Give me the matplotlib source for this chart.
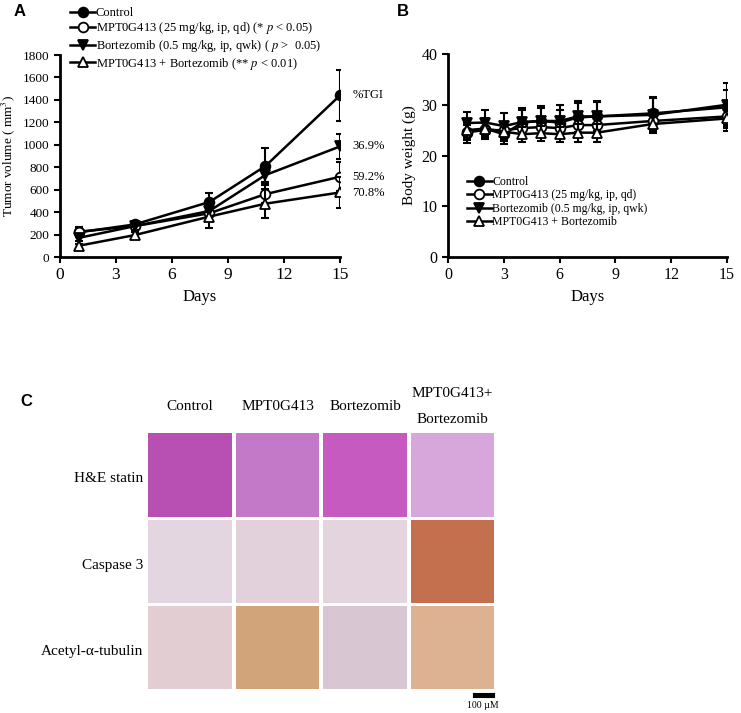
import numpy as np
import matplotlib
matplotlib.use('Agg')
import matplotlib.pyplot as plt

plt.rcParams['font.family'] = ['Liberation Serif', 'DejaVu Serif']
plt.rcParams['mathtext.fontset'] = 'stix'

W, H = 741, 713

# ---- panel A data: tumor volume ----
days_a = [1, 4, 8, 11, 15]
vol_control = [220, 290, 490, 810, 1440]
err_control = [40, 30, 80, 160, 230]
vol_mpt = [225, 275, 390, 560, 715]
err_mpt = [40, 30, 60, 80, 130]
vol_bort = [170, 275, 410, 730, 985]
err_bort = [30, 30, 70, 60, 115]
vol_combo = [100, 195, 360, 475, 575]
err_combo = [20, 25, 100, 130, 140]
tgi_labels = ['%TGI', '36.9%', '59.2%', '70.8%']
tgi_y = [1440, 985, 715, 570]

# ---- panel B data: body weight ----
days_b = [1, 2, 3, 4, 5, 6, 7, 8, 11, 15]
bw_control = [24.5, 25.3, 24.2, 26.5, 26.8, 26.5, 27.5, 27.7, 28.3, 29.5]
bw_control_err = [2.0, 2.0, 2.0, 2.5, 2.5, 2.5, 2.8, 2.8, 3.0, 3.5]
bw_mpt = [24.6, 25.0, 25.0, 25.4, 25.6, 25.4, 26.0, 26.0, 26.8, 27.7]
bw_mpt_err = [1.5, 1.5, 1.5, 1.5, 1.5, 1.5, 1.8, 1.8, 1.8, 2.2]
bw_bort = [26.4, 26.5, 25.8, 26.6, 26.8, 26.8, 27.7, 27.7, 28.0, 30.0]
bw_bort_err = [2.2, 2.5, 2.5, 2.8, 3.0, 3.2, 3.0, 3.0, 3.5, 4.3]
bw_combo = [25.0, 25.3, 24.7, 24.2, 24.4, 24.2, 24.5, 24.5, 26.2, 27.3]
bw_combo_err = [1.5, 1.5, 1.8, 1.5, 1.5, 1.5, 1.8, 1.8, 1.5, 2.5]

# ---- panel C: tiles ----
c_cols = ['Control', 'MPT0G413', 'Bortezomib', 'MPT0G413+\n\nBortezomib']
c_rows = ['H&E statin', 'Caspase 3', 'Acetyl-α-tubulin']
tile_colors = [
    ['#b850b4', '#c478c8', '#c65ac0', '#d7a6da'],
    ['#e4d6e0', '#e2d0da', '#e4d4de', '#c4704e'],
    ['#e2ced2', '#d2a47a', '#d8c6d2', '#dcb292'],
]


def px_axes(l, t, r, b):
    return fig.add_axes([l / W, 1 - b / H, (r - l) / W, (b - t) / H])


def style_axes(ax):
    for s in ['top', 'right']:
        ax.spines[s].set_visible(False)
    for s in ['left', 'bottom']:
        ax.spines[s].set_linewidth(2)
    ax.tick_params(direction='out', length=4, width=1.5)


fig = plt.figure(figsize=(W / 100, H / 100), dpi=100)

styles = [('o', 'black'), ('o', 'white'), ('v', 'black'), ('^', 'white')]

# ---------- A ----------
axA = px_axes(60, 55, 340, 257)
vols = [vol_control, vol_mpt, vol_bort, vol_combo]
errs = [err_control, err_mpt, err_bort, err_combo]
labels_a = ['Control',
            'MPT0G413 (25 mg/kg, ip, qd) (* $p$ < 0.05)',
            'Bortezomib (0.5 mg/kg, ip, qwk) ( $p$ >  0.05)',
            'MPT0G413 + Bortezomib (** $p$ < 0.01)']
for v, e, (m, fc), lab in zip(vols, errs, styles, labels_a):
    axA.errorbar(days_a, v, yerr=e, fmt='none', ecolor='black', elinewidth=1.5,
                 capsize=3, capthick=1.5)
    axA.plot(days_a, v, color='black', lw=1.8, marker=m, markersize=7,
             markerfacecolor=fc, markeredgecolor='black', markeredgewidth=1.3,
             label=lab)
axA.set_xlim(0, 15)
axA.set_ylim(0, 1800)
axA.set_xticks([0, 3, 6, 9, 12, 15])
axA.set_yticks(range(0, 1801, 200))
axA.tick_params(axis='x', labelsize=12.5)
axA.tick_params(axis='y', labelsize=9.5)
axA.set_xlabel('Days', fontsize=12)
axA.set_ylabel('Tumor volume ( mm$^3$)', fontsize=9.5)
style_axes(axA)
for lab, y in zip(tgi_labels, tgi_y):
    axA.annotate(lab, xy=(15, y), xytext=(9, 0), textcoords='offset points',
                 va='center', ha='left', fontsize=9, annotation_clip=False)
fig.legend(*axA.get_legend_handles_labels(), loc='upper left',
           bbox_to_anchor=(70 / W, 1 - 7 / H), frameon=False, fontsize=9,
           handlelength=2.0, handletextpad=0.05, labelspacing=0.12,
           borderpad=0, borderaxespad=0)

# ---------- B ----------
axB = px_axes(448, 54, 727, 257)
bws = [bw_control, bw_mpt, bw_bort, bw_combo]
bwe = [bw_control_err, bw_mpt_err, bw_bort_err, bw_combo_err]
labels_b = ['Control', 'MPT0G413 (25 mg/kg, ip, qd)',
            'Bortezomib (0.5 mg/kg, ip, qwk)', 'MPT0G413 + Bortezomib']
for v, e, (m, fc), lab in zip(bws, bwe, styles, labels_b):
    axB.errorbar(days_b, v, yerr=e, fmt='none', ecolor='black', elinewidth=1.5,
                 capsize=3, capthick=1.5)
    axB.plot(days_b, v, color='black', lw=1.8, marker=m, markersize=7,
             markerfacecolor=fc, markeredgecolor='black', markeredgewidth=1.3,
             label=lab)
axB.set_xlim(0, 15)
axB.set_ylim(0, 40)
axB.set_xticks([0, 3, 6, 9, 12, 15])
axB.set_yticks([0, 10, 20, 30, 40])
axB.tick_params(axis='x', labelsize=11.5)
axB.tick_params(axis='y', labelsize=11.5)
axB.set_xlabel('Days', fontsize=12)
axB.set_ylabel('Body weight (g)', fontsize=11)
style_axes(axB)
fig.legend(*axB.get_legend_handles_labels(), loc='upper left',
           bbox_to_anchor=(467 / W, 1 - 176 / H), frameon=False, fontsize=8.5,
           handlelength=2.1, handletextpad=0.05, labelspacing=0.12,
           borderpad=0, borderaxespad=0)

# ---------- C ----------
col_x = [(148, 232), (236, 319), (323, 407), (411, 494)]
row_y = [(433, 517), (520, 603), (606, 689)]
for i, (t, b) in enumerate(row_y):
    for j, (l, r) in enumerate(col_x):
        ax = px_axes(l, t, r, b)
        ax.imshow([[matplotlib.colors.to_rgb(tile_colors[i][j])]], aspect='auto')
        ax.set_axis_off()
    fig.text(143 / W, 1 - ((t + b) / 2 + 4) / H, c_rows[i], ha='right',
             va='center', fontsize=11)
for j, (l, r) in enumerate(col_x):
    fig.text((l + r) / 2 / W, 1 - 407 / H, c_cols[j], ha='center',
             va='center', fontsize=11, linespacing=1.0)

# scale bar
axS = px_axes(473, 693, 494, 697)
axS.set_facecolor('black')
axS.set_xticks([])
axS.set_yticks([])
fig.text(483 / W, 1 - 705 / H, '100 µM', ha='center', va='center', fontsize=7)

# panel letters
for lab, x, y in [('A', 14, 12), ('B', 397, 12), ('C', 20, 402)]:
    fig.text(x / W, 1 - y / H, lab, fontsize=12, fontweight='bold',
             family='Liberation Sans', ha='left', va='center')

fig.savefig('out.png', dpi=100)
